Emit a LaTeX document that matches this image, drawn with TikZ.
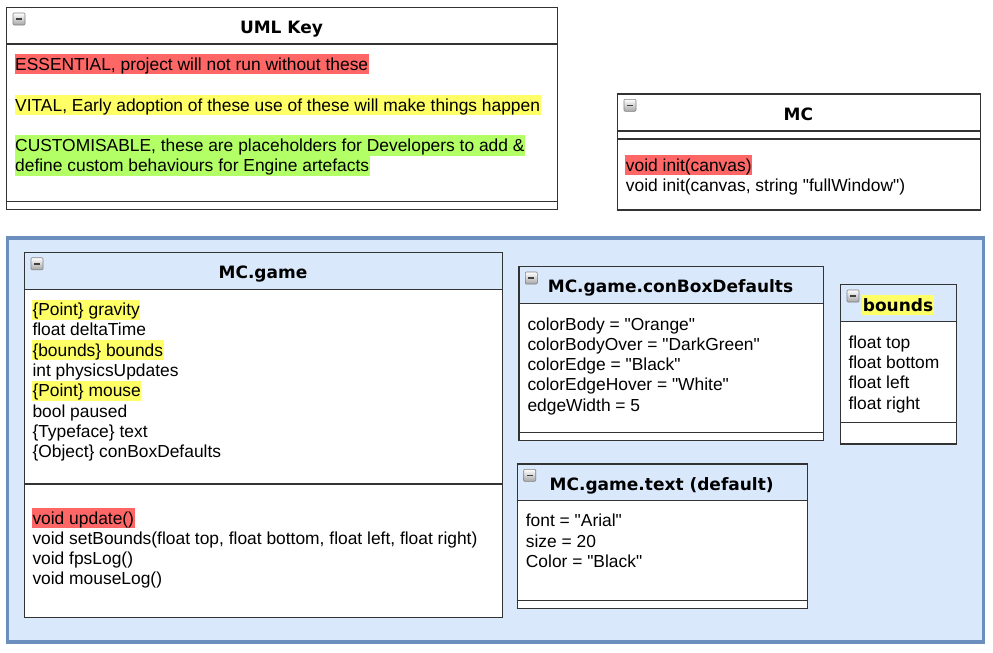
\documentclass[tikz,border=0pt]{standalone}
\usepackage{fontspec}
\newfontfamily\bodyfont{Liberation Sans}
\newfontfamily\titlefont{DejaVu Sans}
\usetikzlibrary{calc}

\definecolor{essred}{HTML}{FF6666}
\definecolor{vitalyellow}{HTML}{FFFF66}
\definecolor{custgreen}{HTML}{B3FF66}
\definecolor{groupfill}{HTML}{DAE8FC}
\definecolor{groupline}{HTML}{6C8EBF}

\tikzset{
    classbox/.style={draw=black!80, line width=1.2pt, anchor=north west, inner sep=0pt},
    classline/.style={draw=black!80, line width=1.2pt},
    classtitle/.style={anchor=base, inner xsep=1pt, inner ysep=0.5pt, text height=15.5pt, text depth=3.8pt,
        font=\titlefont\bfseries\fontsize{17}{20}\selectfont},
    member/.style={anchor=base west, inner xsep=0.6pt, inner ysep=0.4pt, text height=15.6pt, text depth=3.9pt,
        font=\bodyfont\fontsize{17.4}{20.3}\selectfont},
    minusicon/.pic={
        \shade[top color=white, bottom color=black!35, draw=black!50, rounded corners=1pt, line width=0.6pt] (0,0) rectangle (12,-12);
        \fill[black!75] (3,-5.2) rectangle (9,-7);
    }
}

\begin{document}
\begin{tikzpicture}[x=1pt, y=1pt]
    \useasboundingbox (0,0) rectangle (993,-653);
    % package group
    \node[draw=groupline, fill=groupfill, line width=3.5pt, anchor=north west, inner sep=0pt,
        minimum width=976pt, minimum height=404pt] (group) at (5.5,-236) {};
    % class boxes: name/left/top/right/bottom/header/separator
    \foreach \nm/\xl/\yt/\xr/\yb/\yh/\ys in {umlkey/6/7/557/209/44/201.7, mc/617/93.3/979.7/209.3/131/139,
        game/24/251.7/502/616.7/289.3/484, conbox/518.3/266/822.7/440/303.3/432.7,
        bounds/840/284/956/443.3/321.7/422.3, textdef/516.7/463.3/806.7/608/500.7/600.7} {
        \fill[white] (\xl,-\yh) rectangle (\xr,-\yb);
        \node[classbox, minimum width=\xr-\xl, minimum height=\yb-\yt] (\nm) at (\xl,-\yt) {};
        \draw[classline] (\xl,-\yh) -- (\xr,-\yh);
        \draw[classline] (\xl,-\ys) -- (\xr,-\ys);
        \pic at (\xl+7,-\yt-6) {minusicon};
    }
    % titles
    \node[classtitle] (umlkey-title) at (281.5,-33.3) {UML Key};
    \node[classtitle] (mc-title) at (798.3,-120) {MC};
    \node[classtitle] (game-title) at (263,-278.3) {MC.game};
    \node[classtitle] (conbox-title) at (670.5,-292.7) {MC.game.conBoxDefaults};
    \node[classtitle, fill=vitalyellow] (bounds-title) at (898,-311) {bounds};
    \node[classtitle] (textdef-title) at (661.7,-490) {MC.game.text (default)};
    % key
    \node[member, fill=essred] (key-1) at (14.4,-70) {ESSENTIAL, project will not run without these};
    \node[member, fill=vitalyellow] (key-2) at (14.4,-111) {VITAL, Early adoption of these use of these will make things happen};
    \node[member, fill=custgreen] (key-3) at (14.4,-151.3) {CUSTOMISABLE, these are placeholders for Developers to add \&};
    \node[member, fill=custgreen] (key-4) at (14.4,-171.6) {define custom behaviours for Engine artefacts};
    % MC
    \node[member, fill=essred] (mc-m1) at (625.1,-171) {void init(canvas)};
    \node[member] (mc-m2) at (625.1,-191.3) {void init(canvas, string "fullWindow")};
    % MC.game
    \foreach \txt/\hl [count=\i from 0] in {\{Point\} gravity/vitalyellow, float deltaTime/none,
        \{bounds\} bounds/vitalyellow, int physicsUpdates/none, \{Point\} mouse/vitalyellow,
        bool paused/none, \{Typeface\} text/none, \{Object\} conBoxDefaults/none}
        \node[member, fill=\hl] (game-a\i) at (31.7,-315.5-20.3*\i) {\txt};
    \foreach \txt/\hl [count=\i from 0] in {void update()/essred,
        {void setBounds(float top, float bottom, float left, float right)}/none,
        void fpsLog()/none, void mouseLog()/none}
        \node[member, fill=\hl] (game-m\i) at (31.7,-524-20.3*\i) {\txt};
    % conBoxDefaults
    \foreach \txt [count=\i from 0] in {colorBody = "Orange", colorBodyOver = "DarkGreen",
        colorEdge = "Black", colorEdgeHover = "White", edgeWidth = 5}
        \node[member] (conbox-a\i) at (526.7,-330-20.3*\i) {\txt};
    % bounds
    \foreach \txt [count=\i from 0] in {float top, float bottom, float left, float right}
        \node[member] (bounds-a\i) at (847.7,-348.3-20.3*\i) {\txt};
    % text (default)
    \foreach \txt [count=\i from 0] in {font = "Arial", size = 20, Color = "Black"}
        \node[member] (textdef-a\i) at (525.1,-526.7-20.3*\i) {\txt};
\end{tikzpicture}
\end{document}
